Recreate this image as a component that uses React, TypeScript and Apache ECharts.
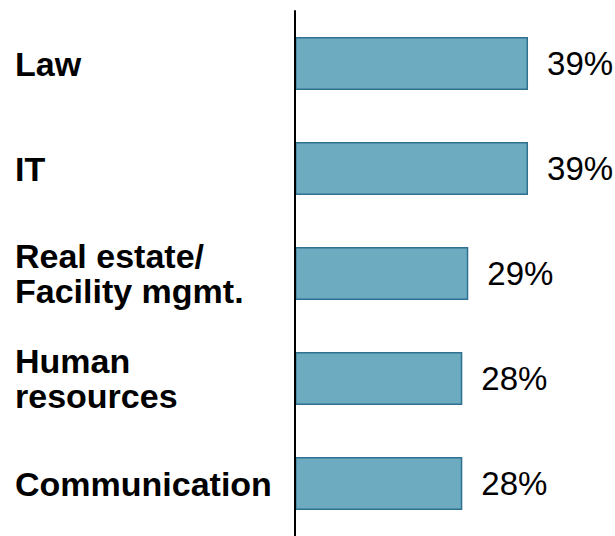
import React, { useEffect, useRef } from "react";
import * as echarts from "echarts";

const categories = ["Law", "IT", "Real estate/\nFacility mgmt.", "Human\nresources", "Communication"];
const values = [39, 39, 29, 28, 28];

export default function App() {
  const ref = useRef<HTMLDivElement>(null);
  useEffect(() => {
    if (!ref.current) return;
    const chart = echarts.init(ref.current, null, { renderer: "svg" });
    chart.setOption({
      animation: false,
      backgroundColor: "#ffffff",
      grid: { left: 295, right: 81, top: 11, bottom: -4, containLabel: false },
      xAxis: { type: "value", min: 0, max: 40, show: false },
      yAxis: {
        type: "category",
        data: categories,
        inverse: true,
        z: 5,
        axisLine: { show: true, lineStyle: { color: "#000000", width: 2 } },
        axisTick: { show: false },
        splitLine: { show: false },
        axisLabel: {
          align: "left",
          margin: 280,
          color: "#000000",
          fontFamily: "Liberation Sans, Arial, sans-serif",
          fontWeight: "bold",
          fontSize: 34,
          lineHeight: 35,
        },
      },
      series: [
        {
          type: "bar",
          data: values,
          barWidth: 53,
          itemStyle: { color: "#6DABC1", borderColor: "#2F7190", borderWidth: 1.5 },
          label: {
            show: true,
            position: "right",
            distance: 19,
            formatter: "{c}%",
            color: "#000000",
            fontFamily: "Liberation Sans, Arial, sans-serif",
            fontSize: 33,
          },
        },
      ],
    });
    return () => chart.dispose();
  }, []);
  return (
    <div
      ref={ref}
      style={{ position: "fixed", left: 0, top: 0, width: 615, height: 536 }}
    />
  );
}
